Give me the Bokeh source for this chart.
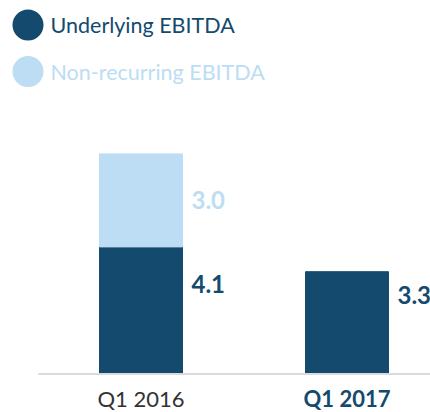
from bokeh.plotting import figure
from bokeh.models import ColumnDataSource, Range1d
from bokeh.embed import file_html
from bokeh.resources import INLINE
from bokeh.core.properties import value

# ---- data ----
categories = ["Q1 2016", "Q1 2017"]
underlying = [4.1, 3.3]
non_recurring = [3.0, 0.0]
series_names = ["Underlying EBITDA", "Non-recurring EBITDA"]

DARK = "#134A6E"
LIGHT = "#BCDDF3"
AXIS_GREY = "#DADADA"
FONT = "Lato"

W, H = 430, 412
PX_X = 206.0          # pixels per category step
PX_Y = 31.0           # pixels per unit
BASE = 373.5          # y pixel (from top of figure) of zero line
x_start = -140.5 / PX_X
x_end = x_start + W / PX_X
y_top = BASE / PX_Y
y_bot = -(H - BASE) / PX_Y

p = figure(width=W, height=H, output_backend="svg", toolbar_location=None,
           x_range=Range1d(x_start, x_end), y_range=Range1d(y_bot, y_top),
           min_border=0, min_border_left=0, min_border_right=0,
           min_border_top=0, min_border_bottom=0)
p.xaxis.visible = False
p.yaxis.visible = False
p.xgrid.visible = False
p.ygrid.visible = False
p.outline_line_color = None
p.background_fill_color = "white"
p.border_fill_color = "white"

xs = list(range(len(categories)))
bar_w = 83 / PX_X
tops = [u + n for u, n in zip(underlying, non_recurring)]

src = ColumnDataSource(dict(x=xs, u=underlying, n=non_recurring, top=tops,
                            cat=categories))
p.vbar(x="x", bottom=0, top="u", width=bar_w, color=DARK, source=src)
nr_idx = [i for i, v in enumerate(non_recurring) if v > 0]
p.vbar(x=[xs[i] for i in nr_idx], bottom=[underlying[i] for i in nr_idx],
       top=[tops[i] for i in nr_idx], width=bar_w, color=LIGHT)

# axis line
p.segment(x0=[x_start + 38 / PX_X], y0=[0], x1=[x_end], y1=[0],
          line_color=AXIS_GREY, line_width=2)

# category labels
p.text(x=xs, y=[0] * len(xs), text=categories, text_align="center",
       text_baseline="middle", y_offset=24,
       text_font=value(FONT), text_font_size="22px",
       text_font_style=["normal", "bold"],
       text_color=["#333333", DARK])

# value labels
lx = [x + bar_w / 2 + 9 / PX_X for x in xs]
p.text(x=lx, y=[2.9, 2.55], text=[f"{v:.1f}" for v in underlying],
       text_align="left", text_baseline="middle",
       text_font=value(FONT), text_font_size="24px", text_font_style="bold",
       text_color=DARK)
p.text(x=[lx[i] for i in nr_idx],
       y=[underlying[i] + non_recurring[i] / 2 for i in nr_idx],
       text=[f"{non_recurring[i]:.1f}" for i in nr_idx],
       text_align="left", text_baseline="middle",
       text_font=value(FONT), text_font_size="24px", text_font_style="bold",
       text_color=LIGHT)

# legend (manual)
leg_x = x_start + 27.5 / PX_X
leg_tx = x_start + 50 / PX_X
leg_y = [(BASE - 24.5) / PX_Y, (BASE - 71) / PX_Y]
p.scatter(x=[leg_x] * 2, y=leg_y, size=31, marker="circle",
          color=[DARK, LIGHT], line_color=None)
p.text(x=[leg_tx] * 2, y=leg_y, text=series_names, text_align="left",
       text_baseline="middle", text_font=value(FONT), text_font_size="21.5px",
       text_color=[DARK, LIGHT])

open("out.html", "w").write(file_html(p, INLINE))
